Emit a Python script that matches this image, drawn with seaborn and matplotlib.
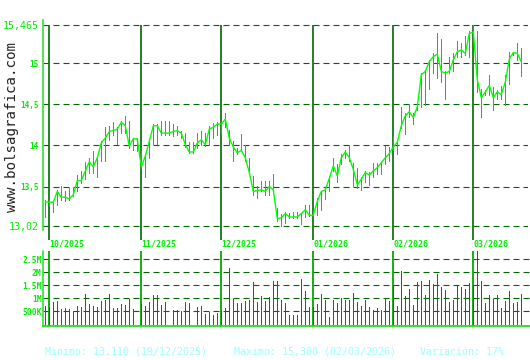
import numpy as np
import pandas as pd
import matplotlib
matplotlib.use("Agg")
import matplotlib.pyplot as plt
import matplotlib.transforms as mtransforms
import seaborn as sns

# ---------------- data ----------------
close = [13.31, 13.31, 13.31, 13.44, 13.37, 13.37, 13.35, 13.40, 13.57, 13.57,
         13.69, 13.80, 13.74, 13.85, 14.03, 14.09, 14.17, 14.18, 14.20, 14.28,
         14.24, 13.99, 14.08, 14.08, 13.74, 13.87, 14.05, 14.24, 14.24, 14.15,
         14.15, 14.15, 14.17, 14.18, 14.15, 14.01, 13.92, 13.92, 14.03, 14.07,
         14.01, 14.20, 14.22, 14.26, 14.26, 14.32, 14.09, 13.98, 13.91, 13.94,
         13.85, 13.67, 13.44, 13.45, 13.46, 13.44, 13.50, 13.46, 13.11, 13.12,
         13.17, 13.13, 13.13, 13.13, 13.17, 13.22, 13.15, 13.15, 13.32, 13.44,
         13.46, 13.60, 13.75, 13.63, 13.85, 13.92, 13.85, 13.71, 13.52, 13.59,
         13.67, 13.64, 13.69, 13.73, 13.79, 13.85, 13.90, 13.98, 14.04, 14.24,
         14.36, 14.41, 14.34, 14.47, 14.86, 14.90, 15.02, 15.08, 15.11, 14.90,
         14.88, 14.90, 15.04, 15.14, 15.16, 15.12, 15.36, 15.38, 14.80, 14.58,
         14.65, 14.73, 14.58, 14.65, 14.62, 14.77, 15.05, 15.13, 15.12, 15.02]
high = [13.33, 13.34, 13.31, 13.46, 13.51, 13.44, 13.48, 13.48, 13.64, 13.69,
        13.80, 13.85, 13.93, 13.87, 14.05, 14.22, 14.24, 14.28, 14.22, 14.30,
        14.36, 14.30, 14.09, 14.09, 13.93, 13.88, 14.06, 14.26, 14.26, 14.30,
        14.30, 14.30, 14.26, 14.24, 14.18, 14.15, 14.04, 14.04, 14.15, 14.17,
        14.15, 14.24, 14.27, 14.28, 14.28, 14.39, 14.19, 14.05, 13.97, 14.14,
        14.01, 13.85, 13.63, 13.51, 13.57, 13.57, 13.57, 13.65, 13.24, 13.16,
        13.19, 13.18, 13.19, 13.19, 13.18, 13.28, 13.28, 13.22, 13.36, 13.45,
        13.48, 13.63, 13.85, 13.77, 13.89, 13.94, 14.01, 13.79, 13.73, 13.62,
        13.69, 13.68, 13.79, 13.79, 13.80, 13.99, 13.98, 14.12, 14.05, 14.47,
        14.39, 14.49, 14.39, 14.49, 14.88, 14.92, 15.04, 15.12, 15.37, 15.29,
        14.90, 15.08, 15.12, 15.27, 15.25, 15.33, 15.39, 15.46, 15.39, 14.69,
        14.67, 14.86, 14.71, 14.67, 14.72, 14.86, 15.14, 15.14, 15.25, 15.18]
low = [13.13, 13.28, 13.19, 13.28, 13.34, 13.32, 13.34, 13.39, 13.44, 13.54,
       13.59, 13.67, 13.67, 13.61, 13.81, 13.81, 14.07, 14.13, 14.02, 14.15,
       14.15, 13.97, 13.94, 13.93, 13.73, 13.62, 13.85, 14.02, 14.02, 14.13,
       14.13, 14.13, 14.11, 14.13, 14.09, 13.98, 13.91, 13.91, 13.97, 14.00,
       13.99, 14.01, 14.09, 14.13, 14.15, 14.22, 14.01, 13.81, 13.89, 13.93,
       13.81, 13.65, 13.40, 13.36, 13.44, 13.40, 13.40, 13.44, 13.08, 13.02,
       13.06, 13.12, 13.12, 13.12, 13.04, 13.13, 13.14, 13.14, 13.15, 13.22,
       13.35, 13.44, 13.69, 13.55, 13.77, 13.85, 13.81, 13.51, 13.48, 13.46,
       13.55, 13.52, 13.61, 13.65, 13.65, 13.77, 13.81, 13.94, 13.89, 14.21,
       14.14, 14.34, 14.26, 14.43, 14.47, 14.49, 14.69, 14.88, 14.82, 14.77,
       14.57, 14.88, 14.90, 15.08, 15.08, 15.10, 15.08, 15.33, 14.65, 14.34,
       14.61, 14.61, 14.43, 14.57, 14.57, 14.49, 14.75, 15.10, 15.04, 14.84]
volume_m = [0.71, 0.68, 0.87, 0.90, 0.60, 0.63, 0.60, 0.52, 0.71, 0.67,
            1.18, 0.79, 0.71, 0.67, 0.90, 0.94, 1.18, 0.63, 0.63, 0.79,
            0.75, 0.98, 0.60, 0.02, 0.80, 0.71, 0.87, 1.13, 1.13, 0.75,
            0.87, 0.02, 0.54, 0.56, 0.51, 0.87, 0.83, 0.02, 0.67, 0.71,
            0.40, 0.48, 0.37, 0.44, 0.56, 0.63, 2.17, 0.98, 0.83, 0.83,
            0.90, 0.94, 1.63, 0.87, 1.10, 0.90, 1.06, 1.67, 1.67, 0.94,
            0.83, 0.37, 0.37, 0.37, 1.75, 1.29, 0.67, 0.67, 0.79, 1.17,
            0.94, 0.29, 0.94, 0.83, 1.02, 0.94, 0.94, 1.21, 0.87, 0.71,
            0.94, 0.67, 0.56, 0.63, 0.56, 1.02, 0.90, 1.52, 0.71, 2.06,
            1.10, 1.37, 0.75, 1.63, 1.67, 1.13, 1.71, 1.56, 1.94, 1.44,
            1.33, 0.87, 0.94, 1.48, 1.44, 1.37, 1.60, 1.52, 2.85, 1.67,
            0.83, 1.13, 0.98, 1.13, 0.63, 0.90, 1.29, 0.83, 0.87, 1.17]
month_start = [1, 24, 44, 67, 87, 107]
month_labels = ["10/2025", "11/2025", "12/2025", "01/2026", "02/2026", "03/2026"]
price_ticks = [13.02, 13.5, 14.0, 14.5, 15.0, 15.465]
price_tick_labels = ["13,02", "13,5", "14", "14,5", "15", "15,465"]
vol_ticks = [0.5, 1.0, 1.5, 2.0, 2.5]
vol_tick_labels = ["500K", "1M", "1.5M", "2M", "2.5M"]
footer = ["Minimo: 13,110 (19/12/2025)", "Maximo: 15,380 (02/03/2026)", "Variación: 17%"]
watermark = "www.bolsagrafica.com"

df = pd.DataFrame({"day": np.arange(len(close)), "close": close, "high": high,
                   "low": low, "vol": volume_m})

# ---------------- style ----------------
sns.set_style("white")
plt.rcParams["font.family"] = ["DejaVu Sans Mono", "DejaVu Sans"]
MONO = "DejaVu Sans Mono"
BRIGHT = "#00ee00"
SPINE = "#22dd22"
GRID = "#006600"
MONTH_P = "#117711"
MONTH_V = "#00aa00"
TEAL = "#1fa0b0"
RED = "#ff0000"

W, H = 530, 360
fig = plt.figure(figsize=(W / 100, H / 100), dpi=100)
fig.patch.set_facecolor("white")

def fx(px):
    return px / W

def fy(py):
    return 1 - py / H

axp = fig.add_axes([fx(43), fy(230), fx(528) - fx(43), (230 - 20) / H])
axv = fig.add_axes([fx(43), fy(326), fx(530) - fx(43), (326 - 251) / H])

xl = (-0.575, -0.575 + (528 - 43) / 4)
xv = (-0.575, -0.575 + (530 - 43) / 4)

for ax in (axp, axv):
    ax.set_facecolor("white")
    for s in ("top", "right"):
        ax.spines[s].set_visible(False)
    ax.spines["left"].set_color(SPINE)
    ax.spines["left"].set_linewidth(1.1)

axp.spines["bottom"].set_visible(False)
axv.spines["bottom"].set_color(SPINE)
axv.spines["bottom"].set_linewidth(1.3)

# ---- price panel ----
py_per_unit = 82.2
ytop = 15.465 + 5 / py_per_unit
ybot = ytop - 210 / py_per_unit
axp.set_xlim(*xl)
axp.set_ylim(ybot, ytop)

for t in price_ticks:
    axp.axhline(t, color=GRID, lw=0.8, dashes=(5.4, 3.6), zorder=1)

trans_p = mtransforms.blended_transform_factory(axp.transData, axp.transAxes)
top_frac = (230 - 25) / 210
for m, lab in zip(month_start, month_labels):
    axp.plot([m, m], [-0.048, top_frac], transform=trans_p, color=MONTH_P,
             lw=1.3, clip_on=False, zorder=2, solid_capstyle="butt")
    axp.text(m + 0.05, -0.068, lab, transform=trans_p, ha="left", va="center",
             fontsize=6.0, color=BRIGHT, family=MONO, fontweight="bold")

axp.vlines(df["day"], df["low"], df["high"], color=TEAL, lw=0.55,
           antialiased=False, zorder=3)
sns.lineplot(data=df, x="day", y="close", ax=axp, color="#00ff00", lw=1.0,
             zorder=4, legend=False)

axp.set_yticks(price_ticks)
axp.set_yticklabels(price_tick_labels)
axp.tick_params(axis="y", length=0, pad=3.0, colors=BRIGHT)
for lab, t in zip(axp.get_yticklabels(), price_ticks):
    lab.set_family(MONO)
    if t in (13.02, 15.465):
        lab.set_fontsize(7.2)
    else:
        lab.set_fontsize(5.6)
        lab.set_fontweight("bold")
axp.set_xticks([])
axp.set_xlabel("")
axp.set_ylabel("")

# ---- volume panel ----
v_per_px = 0.5 / 13.0
vbot = -(326 - 324.3) * v_per_px
vtop = vbot + 75 * v_per_px
axv.set_xlim(*xv)
axv.set_ylim(vbot, vtop)
for t in vol_ticks:
    axv.axhline(t, color=GRID, lw=0.8, dashes=(5.4, 3.6), zorder=1)
for m in month_start:
    axv.axvline(m, color=MONTH_V, lw=1.3, zorder=2)
axv.vlines(df["day"], 0, df["vol"], color=RED, lw=0.55, antialiased=False,
           zorder=3)
axv.set_yticks(vol_ticks)
axv.set_yticklabels(vol_tick_labels)
axv.tick_params(axis="y", length=0, pad=1.0, colors=BRIGHT)
for lab in axv.get_yticklabels():
    lab.set_family(MONO)
    lab.set_fontsize(5.8)
    lab.set_fontweight("bold")
axv.set_xticks([])

# ---- texts ----
for txt, px in zip(footer, [45, 234, 420]):
    fig.text(fx(px), fy(352), txt, ha="left", va="center", fontsize=7.2,
             color="#99ffff", family=MONO)
fig.text(fx(12), fy(127), watermark, rotation=90, ha="center", va="center",
         fontsize=10.2, color="#222222", family=MONO)

fig.savefig("out.png", dpi=100, facecolor="white")
